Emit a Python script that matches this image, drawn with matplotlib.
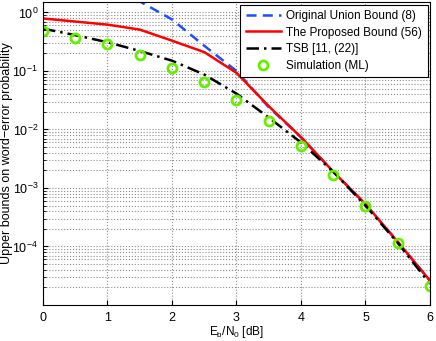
import numpy as np
import matplotlib.pyplot as plt
from matplotlib.ticker import LogLocator, NullFormatter

plt.rcParams['font.family'] = ['Liberation Sans', 'DejaVu Sans']
plt.rcParams['mathtext.fontset'] = 'custom'
plt.rcParams['mathtext.rm'] = 'Liberation Sans'
plt.rcParams['mathtext.it'] = 'Liberation Sans:italic'

# Eb/N0 grid [dB]
snr = [0, 0.5, 1, 1.5, 2, 2.5, 3, 3.5, 4, 4.5, 5, 5.5, 6]

# values
union = [18, 8.0, 3.5, 1.55, 0.76, 0.27, 0.1, 0.024, 0.0074, 0.0019, 5.3e-4, 1.2e-4, 2.6e-5]
proposed = [0.79, 0.70, 0.62, 0.51, 0.33, 0.21, 0.093, 0.025, 0.0074, 0.0019, 5.3e-4, 1.2e-4, 2.6e-5]
tsb = [0.53, 0.41, 0.31, 0.22, 0.15, 0.087, 0.041, 0.016, 0.006, 0.0019, 5.0e-4, 1.15e-4, 2.3e-5]
sim = [0.49, 0.37, 0.29, 0.19, 0.114, 0.065, 0.032, 0.014, 0.0052, 0.0017, 4.9e-4, 1.13e-4, 2.1e-5]

fig = plt.figure(figsize=(4.36, 3.41), dpi=100)
ax = fig.add_axes([0.0986, 0.1056, 0.8876, 0.888])

ax.semilogy(snr, union, '--', color='#1f4fff', lw=1.8, dashes=(4, 2.5), label='Original Union Bound (8)')
ax.semilogy(snr, proposed, '-', color='red', lw=1.8, label='The Proposed Bound (56)')
ax.semilogy(snr, tsb, color='black', lw=1.8, dashes=(5, 2, 1, 2), label='TSB [11, (22)]')
ax.semilogy(snr, sim, 'o', color='#66ee00', mfc='none', mew=2, ms=6.5, label='Simulation (ML)')

ax.set_xlim(0, 6)
ax.set_ylim(1e-5, 1.5)
ax.set_xticks(range(7))
ax.yaxis.set_major_locator(LogLocator(base=10, numticks=10))
ax.yaxis.set_minor_locator(LogLocator(base=10, subs=np.arange(2, 10), numticks=10))
ax.yaxis.set_minor_formatter(NullFormatter())
ax.set_yticks([1e-4, 1e-3, 1e-2, 1e-1, 1])

ax.grid(True, which='major', axis='both', ls=':', color='0.55', lw=0.8)
ax.grid(True, which='minor', axis='y', ls=':', color='0.55', lw=0.8)
ax.tick_params(which='both', direction='in', labelsize=9)
ax.tick_params(which='minor', length=2)
ax.tick_params(axis='x', pad=5)

ax.set_xlabel(r'E$_\mathrm{b}$/N$_0$ [dB]', fontsize=8.5, labelpad=0)
ax.set_ylabel('Upper bounds on word\u2212error probability', fontsize=9, labelpad=1)
ax.yaxis.set_label_coords(-0.078, 0.5)

leg = ax.legend(loc='upper right', fontsize=8.5, fancybox=False, framealpha=1,
                edgecolor='black', borderaxespad=0.2, handlelength=3.0,
                labelspacing=0.4, borderpad=0.45, handletextpad=0.45)
leg.get_frame().set_linewidth(0.8)

fig.savefig('out.png', dpi=100)
